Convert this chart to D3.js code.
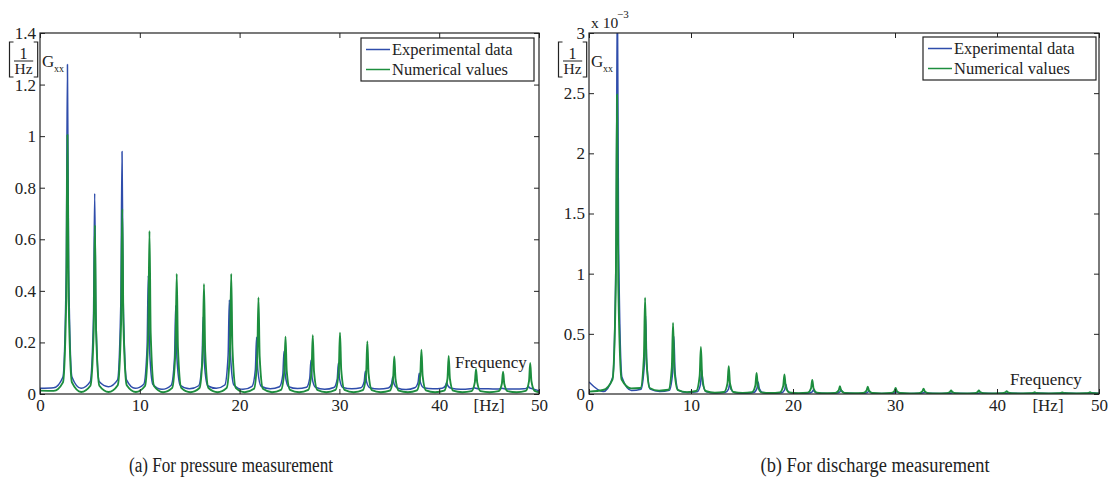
<!DOCTYPE html>
<html>
<head>
<meta charset="utf-8">
<script src="https://cdn.jsdelivr.net/npm/d3@7"></script>
<style>
    body { margin: 0; background: #fff; }
    svg text { font-family: "Liberation Serif", "Times New Roman", serif; fill: #222; }
</style>
</head>
<body>
<div id="chart"></div>
<script>
/* * * * * * * * * * * * * * * * *
*   POWER SPECTRAL DENSITY G_xx   *
* * * * * * * * * * * * * * * * */

// frequency axis [Hz]
const xTicks = [0, 10, 20, 30, 40, 50];
const captions = ["(a) For pressure measurement", "(b) For discharge measurement"];
const seriesNames = ["Experimental data", "Numerical values"];

// resonance frequencies of the numerical model (both panels)
const modeHz = [2.75, 5.5, 8.24, 10.97, 13.7, 16.43, 19.16, 21.89, 24.6, 27.33, 30.06, 32.8, 35.5, 38.22, 40.95, 43.69, 46.4, 49.12];

// (a) pressure, G_xx [1/Hz]
// "near" = value close to the peak (+-0.12 Hz), "skirt" = foot of the peak (+-0.45 Hz)
// valley: value at 0 Hz, midway before each peak, and at 50 Hz
const pressTicks = [0, 0.2, 0.4, 0.6, 0.8, 1, 1.2, 1.4];
const pressNumPeak = [1.005, 0.655, 0.717, 0.632, 0.466, 0.427, 0.466, 0.374, 0.222, 0.228, 0.238, 0.204, 0.146, 0.172, 0.148, 0.097, 0.086, 0.12];
const pressNumNear = [0.37, 0.245, 0.27, 0.235, 0.18, 0.165, 0.18, 0.145, 0.09, 0.09, 0.095, 0.08, 0.06, 0.07, 0.06, 0.045, 0.04, 0.05];
const pressNumSkirt = [0.045, 0.032, 0.034, 0.031, 0.024, 0.023, 0.024, 0.02, 0.016, 0.016, 0.016, 0.015, 0.013, 0.014, 0.013, 0.011, 0.011, 0.012];
const pressNumValley = [0.013, 0.012, 0.008, 0.008, 0.008, 0.007, 0.007, 0.007, 0.007, 0.007, 0.007, 0.007, 0.007, 0.007, 0.007, 0.007, 0.007, 0.007, 0.007, 0.007];

const pressExpHz = [2.75, 5.48, 8.22, 10.85, 13.6, 16.35, 18.97, 21.7, 24.45, 27.15, 29.9, 32.6, 35.35, 38.0, 40.75, 43.55, 46.3, 48.93];
const pressExpPeak = [1.278, 0.778, 0.94, 0.46, 0.343, 0.30, 0.365, 0.22, 0.166, 0.131, 0.12, 0.088, 0.066, 0.08, 0.045, 0.024, 0.022, 0.03];
const pressExpNear = [0.48, 0.3, 0.36, 0.18, 0.14, 0.12, 0.15, 0.095, 0.075, 0.062, 0.058, 0.048, 0.04, 0.045, 0.032, 0.022, 0.021, 0.024];
const pressExpSkirt = [0.066, 0.048, 0.055, 0.038, 0.034, 0.032, 0.035, 0.03, 0.028, 0.026, 0.025, 0.024, 0.023, 0.024, 0.022, 0.02, 0.019, 0.02];
const pressExpValley = [0.022, 0.024, 0.022, 0.028, 0.022, 0.018, 0.02, 0.022, 0.018, 0.02, 0.021, 0.018, 0.02, 0.019, 0.017, 0.02, 0.018, 0.02, 0.019, 0.012];

// (b) discharge, G_xx [1/Hz] in units of 1e-3
const dischTicks = [0, 0.5, 1, 1.5, 2, 2.5, 3];
const dischNumPeak = [2.49, 0.80, 0.59, 0.39, 0.23, 0.175, 0.163, 0.116, 0.064, 0.06, 0.05, 0.045, 0.03, 0.03, 0.024, 0.015, 0.012, 0.015];
const dischNumNear = [0.92, 0.3, 0.22, 0.15, 0.09, 0.07, 0.066, 0.048, 0.03, 0.028, 0.024, 0.022, 0.016, 0.016, 0.014, 0.01, 0.009, 0.01];
const dischNumSkirt = [0.12, 0.05, 0.035, 0.025, 0.017, 0.014, 0.013, 0.011, 0.009, 0.008, 0.008, 0.007, 0.007, 0.007, 0.006, 0.006, 0.006, 0.006];
const dischNumValley = [0.02, 0.033, 0.047, 0.028, 0.016, 0.011, 0.009, 0.008, 0.007, 0.006, 0.006, 0.005, 0.005, 0.005, 0.005, 0.005, 0.005, 0.005, 0.005, 0.005];

const dischExpHz = [2.78, 5.55, 8.32, 11.05, 13.8, 16.58, 19.3, 22.0, 24.72, 27.45, 30.2, 32.95, 35.7, 38.45, 41.2, 43.95, 46.7, 49.4];
const dischExpPeak = [3.4, 0.65, 0.48, 0.2, 0.09, 0.1, 0.08, 0.035, 0.035, 0.025, 0.02, 0.015, 0.012, 0.012, 0.01, 0.01, 0.01, 0.01];
const dischExpNear = [1.25, 0.25, 0.18, 0.08, 0.04, 0.045, 0.035, 0.018, 0.018, 0.014, 0.012, 0.01, 0.009, 0.009, 0.008, 0.008, 0.008, 0.008];
const dischExpSkirt = [0.14, 0.04, 0.03, 0.018, 0.012, 0.012, 0.01, 0.008, 0.008, 0.007, 0.007, 0.006, 0.006, 0.006, 0.006, 0.006, 0.006, 0.006];
const dischExpValley = [0.1, 0.02, 0.03, 0.02, 0.012, 0.008, 0.006, 0.006, 0.005, 0.005, 0.005, 0.005, 0.005, 0.005, 0.005, 0.005, 0.005, 0.005, 0.005, 0.005];

const blue = "#2f4dab";
const green = "#1d8e3e";


class SpectrumVis {
    constructor(svg, config) {
        this.svg = svg;
        this.config = config;

        this.initVis();
    }

    initVis() {
        let vis = this;
        let c = vis.config;

        vis.g = vis.svg.append("g").attr("class", `panel-${c.id}`);

        // Scales
        vis.x = d3.scaleLinear().domain([0, 50]).range([c.left, c.right]);
        vis.y = d3.scaleLinear().domain(c.yDomain).range([c.bottom, c.top]);

        vis.line = d3.line()
            .x(d => vis.x(d[0]))
            .y(d => vis.y(d[1]))
            .curve(d3.curveMonotoneX);

        // Clip the spectra to the axes box
        vis.g.append("clipPath")
            .attr("id", `clip-${c.id}`)
            .append("rect")
            .attr("x", c.left)
            .attr("y", c.top)
            .attr("width", c.right - c.left)
            .attr("height", c.bottom - c.top);

        vis.linesGroup = vis.g.append("g").attr("clip-path", `url(#clip-${c.id})`);
        vis.axesGroup = vis.g.append("g").attr("class", "axes");
        vis.legendGroup = vis.g.append("g").attr("class", "legend");

        vis.wrangleData();
    }

    wrangleData() {
        let vis = this;

        // Each spectrum: start value, valley before every peak, then the peak with its flanks
        vis.seriesData = vis.config.series.map(s => {
            let pts = [[0, s.valley[0]]];
            s.hz.forEach((f, i) => {
                let prev = i === 0 ? 0 : s.hz[i - 1];
                pts.push([(prev + f) / 2, s.valley[i + 1]]);
                pts.push([f - 0.45, s.skirt[i]], [f - 0.12, s.near[i]], [f, s.peak[i]],
                    [f + 0.12, s.near[i]], [f + 0.45, s.skirt[i]]);
            });
            pts.push([50, s.valley[s.hz.length + 1]]);
            return { name: s.name, color: s.color, width: s.width, points: pts };
        });

        vis.updateVis();
    }

    updateVis() {
        let vis = this;
        let c = vis.config;

        // Spectra (experimental first, numerical on top)
        vis.linesGroup.selectAll(".spectrum")
            .data(vis.seriesData)
            .join("path")
            .attr("class", "spectrum")
            .attr("d", d => vis.line(d.points))
            .attr("fill", "none")
            .attr("stroke", d => d.color)
            .attr("stroke-width", d => d.width)
            .attr("stroke-linejoin", "round");

        // Axes with inward ticks on all four sides
        const font = g => g.attr("font-family", "'Liberation Serif', 'Times New Roman', serif")
            .attr("font-size", 17).attr("color", "#222");

        vis.axesGroup.append("g")
            .attr("transform", `translate(0,${c.bottom})`)
            .call(d3.axisBottom(vis.x).tickValues(xTicks).tickSize(-5).tickPadding(5).tickFormat(d3.format("d")))
            .call(font)
            .call(g => g.select(".domain").remove());

        vis.axesGroup.append("g")
            .attr("transform", `translate(0,${c.top})`)
            .call(d3.axisTop(vis.x).tickValues(xTicks).tickSize(-5).tickFormat(""))
            .call(font)
            .call(g => g.select(".domain").remove());

        vis.axesGroup.append("g")
            .attr("transform", `translate(${c.left},0)`)
            .call(d3.axisLeft(vis.y).tickValues(c.yTicks).tickSize(-5).tickPadding(4).tickFormat(d => String(d)))
            .call(font)
            .call(g => g.select(".domain").remove());

        vis.axesGroup.append("g")
            .attr("transform", `translate(${c.right},0)`)
            .call(d3.axisRight(vis.y).tickValues(c.yTicks).tickSize(-5).tickFormat(""))
            .call(font)
            .call(g => g.select(".domain").remove());

        vis.axesGroup.append("rect")
            .attr("x", c.left)
            .attr("y", c.top)
            .attr("width", c.right - c.left)
            .attr("height", c.bottom - c.top)
            .attr("fill", "none")
            .attr("stroke", "#222")
            .attr("stroke-width", 1.2);

        // Exponent of the y axis
        if (c.exponent) {
            vis.axesGroup.append("text")
                .attr("x", c.left + 2)
                .attr("y", 28)
                .style("font-size", "15.5px")
                .text("x 10");
            vis.axesGroup.append("text")
                .attr("x", c.left + 28)
                .attr("y", 18)
                .style("font-size", "11px")
                .text(c.exponent);
        }

        // Y label: [1/Hz] G_xx
        const bl = c.left - 30.5, br = c.left - 2.3, bTop = 42, bBot = 77;
        vis.axesGroup.append("path")
            .attr("d", `M${bl + 4},${bTop}H${bl}V${bBot}H${bl + 4}M${br - 4},${bTop}H${br}V${bBot}H${br - 4}M${bl + 4.5},61H${br - 4.5}`)
            .attr("fill", "none")
            .attr("stroke", "#222")
            .attr("stroke-width", 1.2);
        vis.axesGroup.append("text")
            .attr("x", (bl + br) / 2).attr("y", 58.5)
            .attr("text-anchor", "middle")
            .style("font-size", "16px")
            .text("1");
        vis.axesGroup.append("text")
            .attr("x", (bl + br) / 2).attr("y", 74)
            .attr("text-anchor", "middle")
            .style("font-size", "15.5px")
            .text("Hz");
        vis.axesGroup.append("text")
            .attr("x", c.left + 2).attr("y", 67)
            .style("font-size", "17px")
            .text("G");
        vis.axesGroup.append("text")
            .attr("x", c.left + 14).attr("y", 72)
            .style("font-size", "10px")
            .text("xx");

        // X labels
        vis.axesGroup.append("text")
            .attr("x", c.freqLabel[0]).attr("y", c.freqLabel[1])
            .style("font-size", "17px")
            .text("Frequency");
        vis.axesGroup.append("text")
            .attr("x", vis.x(45)).attr("y", 411)
            .attr("text-anchor", "middle")
            .style("font-size", "17px")
            .text("[Hz]");

        // Caption (condensed serif)
        vis.svg.append("text")
            .attr("x", c.captionX - c.captionWidth / 2).attr("y", 472)
            .attr("textLength", c.captionWidth)
            .attr("lengthAdjust", "spacingAndGlyphs")
            .style("font-size", "20px")
            .text(c.caption);

        // Legend
        const lx = c.legend[0], ly = c.legend[1];
        vis.legendGroup.append("rect")
            .attr("x", lx).attr("y", ly)
            .attr("width", 173).attr("height", 43)
            .attr("fill", "#fff")
            .attr("stroke", "#222")
            .attr("stroke-width", 1.2);

        const items = vis.legendGroup.selectAll(".legend-item")
            .data(vis.seriesData)
            .join("g")
            .attr("class", "legend-item")
            .attr("transform", (d, i) => `translate(${lx},${ly + 11.5 + i * 20})`);

        items.append("line")
            .attr("x1", 5).attr("x2", 29)
            .attr("stroke", d => d.color)
            .attr("stroke-width", 1.5);

        items.append("text")
            .attr("x", 31).attr("y", 5.5)
            .style("font-size", "16.5px")
            .text(d => d.name);
    }
}

const svg = d3.select("#chart").append("svg")
    .attr("width", 1116)
    .attr("height", 479)
    .style("background", "#fff");

new SpectrumVis(svg, {
    id: "pressure", left: 40, right: 539, top: 33, bottom: 394,
    yDomain: [0, 1.4], yTicks: pressTicks, exponent: null,
    caption: captions[0], captionX: 231, captionWidth: 204, freqLabel: [455, 368], legend: [361, 38],
    series: [
        { name: seriesNames[0], color: blue, width: 1.5, hz: pressExpHz, peak: pressExpPeak, near: pressExpNear, skirt: pressExpSkirt, valley: pressExpValley },
        { name: seriesNames[1], color: green, width: 1.9, hz: modeHz, peak: pressNumPeak, near: pressNumNear, skirt: pressNumSkirt, valley: pressNumValley }
    ]
});

new SpectrumVis(svg, {
    id: "discharge", left: 589, right: 1099, top: 33, bottom: 394,
    yDomain: [0, 3], yTicks: dischTicks, exponent: "\u22123",
    caption: captions[1], captionX: 875, captionWidth: 229, freqLabel: [1010, 385], legend: [923, 37],
    series: [
        { name: seriesNames[0], color: blue, width: 1.5, hz: dischExpHz, peak: dischExpPeak, near: dischExpNear, skirt: dischExpSkirt, valley: dischExpValley },
        { name: seriesNames[1], color: green, width: 1.9, hz: modeHz, peak: dischNumPeak, near: dischNumNear, skirt: dischNumSkirt, valley: dischNumValley }
    ]
});
</script>
</body>
</html>
